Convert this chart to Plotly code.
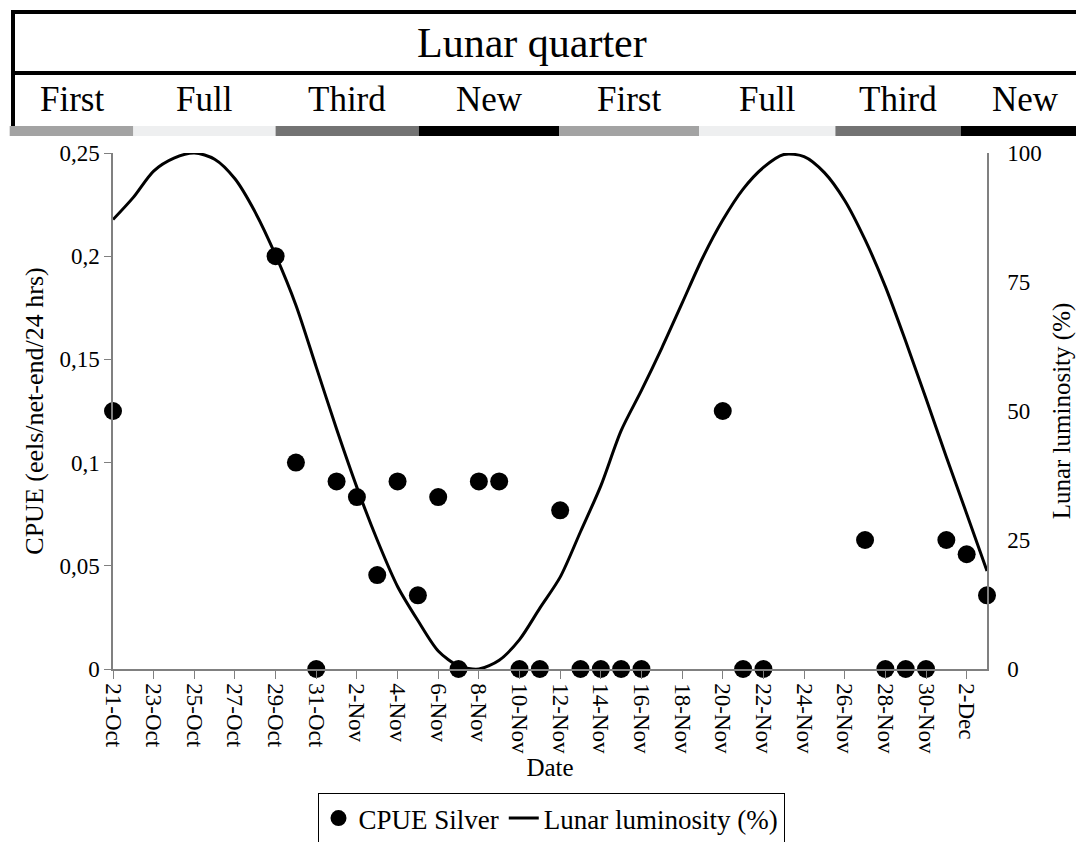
import plotly.graph_objects as go
import pandas as pd

W, H = 1076, 842

# ---------------- data ----------------
cpue_dates = ['2018-10-21', '2018-10-29', '2018-10-30', '2018-10-31', '2018-11-01', '2018-11-02',
              '2018-11-03', '2018-11-04', '2018-11-05', '2018-11-06', '2018-11-07', '2018-11-08',
              '2018-11-09', '2018-11-10', '2018-11-11', '2018-11-12', '2018-11-13', '2018-11-14',
              '2018-11-15', '2018-11-16', '2018-11-20', '2018-11-21', '2018-11-22', '2018-11-27',
              '2018-11-28', '2018-11-29', '2018-11-30', '2018-12-01', '2018-12-02', '2018-12-03']
cpue_silver = [0.125, 0.2, 0.1, 0, 0.0909, 0.0833,
               0.0455, 0.0909, 0.0357, 0.0833, 0, 0.0909,
               0.0909, 0, 0, 0.0769, 0, 0,
               0, 0, 0.125, 0, 0, 0.0625,
               0, 0, 0, 0.0625, 0.0556, 0.0357]

lum_dates = [d.strftime('%Y-%m-%d') for d in pd.date_range('2018-10-21', '2018-12-03', freq='D')]
lunar_luminosity = [87.1, 91.4, 96.5, 99.0, 100.0, 98.8, 95.0, 88.5, 80.2, 70.5,
                    58.5, 46.5, 35.2, 25.0, 16.0, 9.4, 3.5, 0.6, 0.0, 1.7,
                    5.7, 11.8, 17.8, 26.6, 35.5, 46.2, 54.0, 62.2, 70.9, 79.6,
                    87.0, 93.0, 97.2, 99.7, 99.3, 96.2, 90.8, 83.2, 74.1, 63.5,
                    52.4, 41.1, 30.1, 19.0]

phase_names = ['First', 'Full', 'Third', 'New', 'First', 'Full', 'Third', 'New']
phase_starts = ['2018-10-15 22:00', '2018-10-22 00:00', '2018-10-29 00:00', '2018-11-05 01:00',
                '2018-11-11 23:00', '2018-11-18 20:00', '2018-11-25 13:00', '2018-12-01 17:00']
phase_ends = phase_starts[1:] + ['2018-12-09 00:00']
phase_colors = ['#a3a3a3', '#eeeff0', '#737373', '#000000', '#a3a3a3', '#eeeff0', '#737373', '#000000']

x_range = ['2018-10-21', '2018-12-03']
cpue_ticks = [0, 0.05, 0.1, 0.15, 0.2, 0.25]
lum_ticks = [0, 25, 50, 75, 100]

# ---------------- layout geometry (pixels) ----------------
px_l, px_r, px_t, px_b = 113, 987, 153, 669
xdom = [px_l / W, px_r / W]
ydom = [1 - px_b / H, 1 - px_t / H]

# secondary full-width date axis for the header bars, aligned with the main axis
t0, t1 = pd.Timestamp(x_range[0]), pd.Timestamp(x_range[1])
span = t1 - t0
dw = xdom[1] - xdom[0]
x2_range = [(t0 - span * (xdom[0] / dw)).strftime('%Y-%m-%d %H:%M:%S'),
            (t1 + span * ((1 - xdom[1]) / dw)).strftime('%Y-%m-%d %H:%M:%S')]

FONT = 'Liberation Serif'

fig = go.Figure()

fig.add_trace(go.Scatter(
    x=cpue_dates, y=cpue_silver, mode='markers', name='CPUE Silver',
    marker=dict(color='black', size=18), cliponaxis=False, xaxis='x', yaxis='y'))

fig.add_trace(go.Scatter(
    x=lum_dates, y=lunar_luminosity, mode='lines', name='Lunar luminosity (%)',
    line=dict(color='black', width=3, shape='spline', smoothing=0.8),
    xaxis='x', yaxis='y2'))

# invisible trace to activate x2
fig.add_trace(go.Scatter(x=x2_range, y=[0, 0], mode='markers', marker=dict(opacity=0),
                         showlegend=False, hoverinfo='skip', xaxis='x2', yaxis='y3'))

def py(p):
    return 1 - p / H

shapes = []
# header bars
for s, e, c in zip(phase_starts, phase_ends, phase_colors):
    shapes.append(dict(type='rect', xref='x2', yref='paper', x0=s, x1=e,
                       y0=py(136), y1=py(126), fillcolor=c, line=dict(width=0), layer='above'))
# header box lines
shapes.append(dict(type='line', xref='paper', yref='paper', x0=13 / W, x1=1.0, y0=py(12), y1=py(12),
                   line=dict(color='black', width=4)))
shapes.append(dict(type='line', xref='paper', yref='paper', x0=13 / W, x1=1.0, y0=py(73), y1=py(73),
                   line=dict(color='black', width=4)))
shapes.append(dict(type='line', xref='paper', yref='paper', x0=13 / W, x1=13 / W, y0=py(10), y1=py(126),
                   line=dict(color='black', width=4)))

annotations = [dict(text='Lunar quarter', xref='paper', yref='paper', x=532 / W, y=py(43),
                    showarrow=False, font=dict(family=FONT, size=42, color='black'),
                    xanchor='center', yanchor='middle')]
for name, s, e in zip(phase_names, phase_starts, phase_ends):
    sm = pd.Timestamp(s) + (pd.Timestamp(e) - pd.Timestamp(s)) / 2
    if name == 'New' and s.startswith('2018-12'):
        sm = pd.Timestamp(s) + pd.Timedelta(hours=76)
    annotations.append(dict(text=name, xref='x2', yref='paper', x=sm.strftime('%Y-%m-%d %H:%M:%S'),
                            y=py(99), showarrow=False, xanchor='center', yanchor='middle',
                            font=dict(family=FONT, size=35, color='black')))

fig.update_layout(
    template='none',
    width=W, height=H,
    margin=dict(l=0, r=0, t=0, b=0, autoexpand=False),
    paper_bgcolor='white', plot_bgcolor='white',
    separators=', ',
    font=dict(family=FONT, size=23, color='black'),
    showlegend=True,
    legend=dict(orientation='h', x=551 / W, xanchor='center', y=py(793), yanchor='top',
                bordercolor='black', borderwidth=1, bgcolor='white',
                font=dict(family=FONT, size=27, color='black'), itemwidth=30),
    xaxis=dict(domain=xdom, type='date', range=x_range, tick0=x_range[0], dtick=2 * 86400000,
               tickformat='%-d-%b', tickangle=90, ticks='outside', ticklen=8, tickcolor='#808080',
               showline=True, linecolor='#808080', linewidth=1.5, showgrid=False, zeroline=False,
               tickfont=dict(family=FONT, size=23), automargin=False,
               title=dict(text='Date', font=dict(family=FONT, size=25), standoff=4),
               anchor='y'),
    yaxis=dict(domain=ydom, range=[0, 0.25], tickvals=cpue_ticks, ticks='outside', ticklen=7,
               tickcolor='#808080', showline=True, linecolor='#808080', linewidth=1.5,
               showgrid=False, zeroline=False, tickfont=dict(family=FONT, size=23), automargin=False,
               title=dict(text='CPUE (eels/net-end/24 hrs)', font=dict(family=FONT, size=26), standoff=8),
               anchor='x'),
    yaxis2=dict(domain=ydom, range=[0, 100], tickvals=lum_ticks, overlaying='y', side='right',
                ticks='', ticklabelstandoff=14, showline=True, linecolor='#808080', linewidth=1.5,
                showgrid=False, zeroline=False, tickfont=dict(family=FONT, size=23), automargin=False,
                title=dict(text='Lunar luminosity (%)', font=dict(family=FONT, size=25), standoff=12),
                anchor='x'),
    xaxis2=dict(domain=[0, 1], type='date', range=x2_range, visible=False, anchor='y3',
                fixedrange=True, automargin=False),
    yaxis3=dict(domain=[0.84, 0.86], range=[-1, 1], visible=False, anchor='x2', fixedrange=True,
                automargin=False),
    shapes=shapes,
    annotations=annotations,
)

fig.write_html('out.html', config={'displayModeBar': False},
               post_script="document.body.style.margin='0';document.body.style.overflow='hidden';")
